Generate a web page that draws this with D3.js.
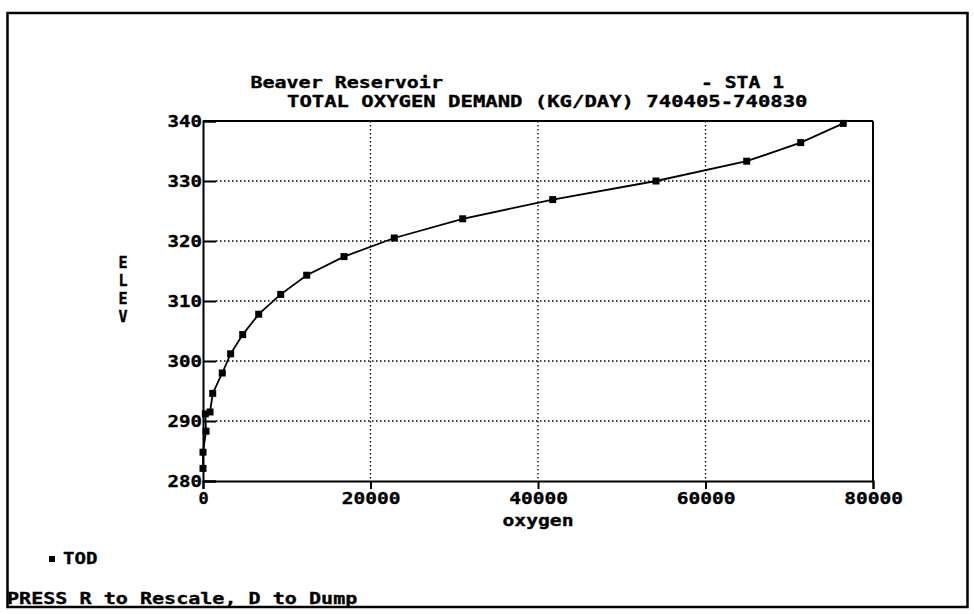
<!DOCTYPE html>
<html>
<head>
<meta charset="utf-8">
<script src="https://cdn.jsdelivr.net/npm/d3@7"></script>
<style>
  html, body { margin: 0; padding: 0; background: #fff; }
  svg text { font-family: "DejaVu Sans Mono", "Liberation Mono", monospace; font-weight: bold;
             fill: #000; stroke: #000; stroke-width: 0.35px; }
</style>
</head>
<body>
<svg id="chart" width="974" height="614"></svg>
<script>
// Total oxygen demand (kg/day) by elevation, Beaver Reservoir station 1
const elevation = [282.1, 284.8, 288.3, 291.2, 291.5, 294.6, 298.0, 301.2, 304.4, 307.8,
                   311.1, 314.3, 317.4, 320.5, 323.7, 326.9, 330.0, 333.3, 336.4, 339.6];
const oxygen    = [0, 0, 360, 280, 840, 1160, 2300, 3300, 4740, 6650,
                   9280, 12380, 16840, 22840, 31010, 41760, 54090, 64920, 71370, 76450];
const xTicks = [0, 20000, 40000, 60000, 80000];
const yTicks = [280, 290, 300, 310, 320, 330, 340];
const titleLines = ["Beaver Reservoir", "TOTAL OXYGEN DEMAND (KG/DAY)  740405-740830"];
const stationLabel = "- STA 1";
const xTitle = "oxygen";
const yTitle = ["E", "L", "E", "V"];
const seriesName = "TOD";
const footer = "PRESS R to Rescale, D to Dump";

const svg = d3.select("#chart");
const charW = 12.15;           // fixed character cell width
const fs = 16;

const x = d3.scaleLinear().domain([0, 80000]).range([203, 873]);
const y = d3.scaleLinear().domain([280, 340]).range([481, 121]);

const fit = s => s.length * charW - 2;

function txt(g, s, px, py, anchor) {
  return g.append("text")
    .attr("x", px).attr("y", py)
    .attr("font-size", fs)
    .attr("text-anchor", anchor || "start")
    .attr("textLength", fit(s))
    .attr("lengthAdjust", "spacingAndGlyphs")
    .text(s);
}

// screen frame
svg.append("rect").attr("x", 7.5).attr("y", 13).attr("width", 960).attr("height", 594)
  .attr("fill", "none").attr("stroke", "#000").attr("stroke-width", 2.5);

// dotted grid
const grid = svg.append("g").attr("stroke", "#000").attr("stroke-width", 1.3)
  .attr("stroke-dasharray", "1.5,2.5");
grid.selectAll("line.v").data(xTicks.filter(d => d > 0 && d < 80000)).join("line")
  .attr("x1", d => x(d)).attr("x2", d => x(d)).attr("y1", y(340)).attr("y2", y(280));
grid.selectAll("line.h").data(yTicks.filter(d => d > 280 && d < 340)).join("line")
  .attr("x1", x(0) + 13).attr("x2", x(80000)).attr("y1", d => y(d)).attr("y2", d => y(d));

// axes
const xAxis = d3.axisBottom(x).tickValues(xTicks).tickSize(8).tickPadding(2).tickFormat(d3.format("d"));
const yAxis = d3.axisLeft(y).tickValues(yTicks).tickSize(-13).tickPadding(1).tickFormat(d3.format("d"));

const gx = svg.append("g").attr("transform", `translate(0,${y(280)})`).call(xAxis);
const gy = svg.append("g").attr("transform", `translate(${x(0)},0)`).call(yAxis);
[gx, gy].forEach(g => {
  g.select(".domain").attr("stroke", "#000").attr("stroke-width", 2);
  g.selectAll(".tick line").attr("stroke", "#000").attr("stroke-width", 2);
  g.selectAll(".tick text").attr("font-size", fs)
    .attr("textLength", function () { return fit(this.textContent); })
    .attr("lengthAdjust", "spacingAndGlyphs");
});
gx.selectAll(".tick text").attr("dy", "0.8em");
gy.selectAll(".tick text").attr("dy", "0.36em");

// top and right borders of the plot box
svg.append("line").attr("x1", x(0)).attr("x2", x(80000)).attr("y1", y(340)).attr("y2", y(340))
  .attr("stroke", "#000").attr("stroke-width", 2);
svg.append("line").attr("x1", x(80000)).attr("x2", x(80000)).attr("y1", y(340)).attr("y2", y(280))
  .attr("stroke", "#000").attr("stroke-width", 2);

// series line and markers
const pts = oxygen.map((o, i) => ({ o, e: elevation[i] }));
svg.append("path").datum(pts)
  .attr("fill", "none").attr("stroke", "#000").attr("stroke-width", 1.8)
  .attr("d", d3.line().x(d => x(d.o)).y(d => y(d.e)));
const m = 7;
svg.append("g").selectAll("rect").data(pts).join("rect")
  .attr("x", d => x(d.o) - m / 2).attr("y", d => y(d.e) - m / 2)
  .attr("width", m).attr("height", m).attr("fill", "#000");

// title block
const t = svg.append("g");
txt(t, titleLines[0], 250.5, 88);
txt(t, stationLabel, 701, 88);
txt(t, titleLines[1], 287, 107);

txt(t, xTitle, 538, 526, "middle");

// vertical axis title, one letter per row
yTitle.forEach((c, i) => svg.append("text")
  .attr("font-size", 15).attr("text-anchor", "middle")
  .attr("x", 123).attr("y", 268 + i * 18).text(c));

// legend
svg.append("rect").attr("x", 49).attr("y", 556).attr("width", 6).attr("height", 6).attr("fill", "#000");
txt(t, seriesName, 63, 564);

// status line
txt(t, footer, 7, 604);
</script>
</body>
</html>
